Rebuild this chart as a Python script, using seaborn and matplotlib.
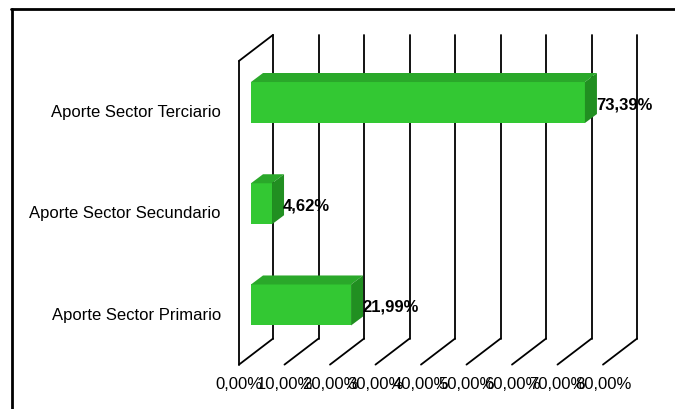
import matplotlib

matplotlib.use("Agg")
import matplotlib.pyplot as plt
import seaborn as sns
from matplotlib.lines import Line2D


# Data
sectors = ["Aporte Sector Terciario", "Aporte Sector Secundario", "Aporte Sector Primario"]
shares = [73.39, 4.62, 21.99]
value_labels = ["73,39%", "4,62%", "21,99%"]
tick_values = [0, 10, 20, 30, 40, 50, 60, 70, 80]
tick_labels = ["0,00%", "10,00%", "20,00%", "30,00%", "40,00%",
               "50,00%", "60,00%", "70,00%", "80,00%"]

# Colors of the faux 3D bars
FRONT = "#33c833"
TOP = "#2aa82a"
SIDE = "#218f21"

# Depth offsets (data units) for the pseudo 3D look
BAR_DX, BAR_DY = 2.64, -0.089      # bar depth
FRONT_DX, FRONT_DY = -2.64, 0.089  # front edge of the walls
BACK_DX, BACK_DY = 4.84, -0.168    # back wall
BAR_WIDTH = 0.405


def draw_walls(ax):
    y_top, y_bot = -0.5, 2.5
    kw = dict(color="black", lw=1.3, zorder=0.5, clip_on=False)
    # back wall gridlines
    for v in tick_values:
        ax.plot([v + BACK_DX, v + BACK_DX], [y_top + BACK_DY, y_bot + BACK_DY], **kw)
        # floor lines towards the front
        ax.plot([v + BACK_DX, v + FRONT_DX], [y_bot + BACK_DY, y_bot + FRONT_DY], **kw)
    # left side wall
    ax.plot([FRONT_DX, FRONT_DX], [y_top + FRONT_DY, y_bot + FRONT_DY], **kw)
    ax.plot([FRONT_DX, BACK_DX], [y_top + FRONT_DY, y_top + BACK_DY], **kw)


def draw_bars(ax):
    sns.barplot(x=shares, y=sectors, orient="h", color=FRONT, saturation=1,
                width=BAR_WIDTH, linewidth=0, ax=ax, zorder=2)
    for i, v in enumerate(shares):
        top = i - BAR_WIDTH / 2
        bot = i + BAR_WIDTH / 2
        # top face
        ax.fill([0, v, v + BAR_DX, BAR_DX],
                [top, top, top + BAR_DY, top + BAR_DY],
                color=TOP, lw=0, zorder=2, clip_on=False)
        # right side face
        ax.fill([v, v + BAR_DX, v + BAR_DX, v],
                [top, top + BAR_DY, bot + BAR_DY, bot],
                color=SIDE, lw=0, zorder=2, clip_on=False)
        ax.text(v + BAR_DX - 0.2, i + 0.02, value_labels[i], ha="left",
                va="center", fontsize=12, fontweight="bold", zorder=3)


def draw_labels(ax):
    for v, lab in zip(tick_values, tick_labels):
        ax.text(v + FRONT_DX, 2.5 + FRONT_DY + 0.2, lab, ha="center",
                va="center", fontsize=12, clip_on=False)
    for i, name in enumerate(sectors):
        ax.text(FRONT_DX - 3.96, i + FRONT_DY + 0.01, name, ha="right",
                va="center", fontsize=12, clip_on=False)


def main():
    sns.set_theme(style="white")
    plt.rcParams["font.family"] = ["Liberation Sans", "DejaVu Sans"]
    plt.rcParams["text.color"] = "black"

    fig = plt.figure(figsize=(6.75, 4.09), dpi=100)
    ax = fig.add_axes([251 / 675, 1 - 355.6 / 409, 364 / 675, 303.7 / 409])

    draw_walls(ax)
    draw_bars(ax)
    draw_labels(ax)

    ax.set_xlim(0, 80)
    ax.set_ylim(2.5, -0.5)
    ax.set_xticks([])
    ax.set_yticks([])
    ax.set_xlabel("")
    ax.set_ylabel("")
    for s in ax.spines.values():
        s.set_visible(False)
    ax.patch.set_alpha(0)

    # outer frame (only the top and left edges are visible in the original)
    fig.add_artist(Line2D([11 / 675, 1], [1 - 9 / 409, 1 - 9 / 409],
                          transform=fig.transFigure, color="black", lw=2))
    fig.add_artist(Line2D([12 / 675, 12 / 675], [0, 1 - 9 / 409],
                          transform=fig.transFigure, color="black", lw=2))

    fig.savefig("out.png", dpi=100, facecolor="white")


if __name__ == "__main__":
    main()
